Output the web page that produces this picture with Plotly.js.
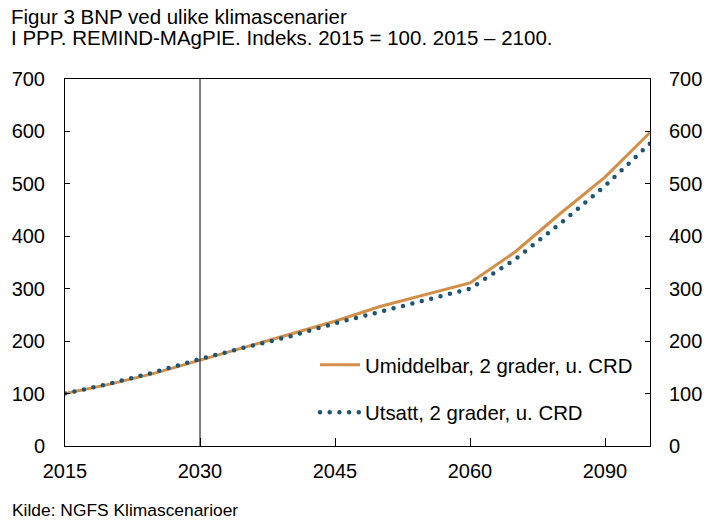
<!DOCTYPE html>
<html>
<head>
<meta charset="utf-8">
<script src="https://cdn.plot.ly/plotly-3.0.1.min.js"></script>
<style>
html, body { margin: 0; padding: 0; background: #fff; }
#chart { width: 714px; height: 528px; }
</style>
</head>
<body>
<div id="chart"></div>
<script>
// Data
const years = ['2015','2020','2025','2030','2035','2040','2045','2050','2055','2060','2070','2080','2090','2100'];
const umiddelbar = [100, 118, 139, 164, 188, 213, 238, 266, 289, 311, 370, 443, 513, 598];
const utsatt     = [100, 119, 141, 166, 188, 209, 234, 257, 278, 300, 356, 424, 496, 577];
const tickYears = ['2015','2030','2045','2060','2090'];
const markerYear = '2030';
const seriesNames = ['Umiddelbar, 2 grader, u. CRD', 'Utsatt, 2 grader, u. CRD'];
const titleLines = ['Figur 3 BNP ved ulike klimascenarier', 'I PPP. REMIND-MAgPIE. Indeks. 2015 = 100. 2015 \u2013 2100.'];
const sourceText = 'Kilde: NGFS Klimascenarioer';

const FONT = 'Liberation Sans, Arial, Helvetica, sans-serif';
const ORANGE = '#D38E48';
const NAVY = '#1E5474';

const traces = [
  {
    x: years, y: umiddelbar, name: seriesNames[0], type: 'scatter', mode: 'lines',
    line: { color: ORANGE, width: 3 }, legendgroup: 'a', hoverinfo: 'skip'
  },
  {
    x: years, y: utsatt, name: seriesNames[1], type: 'scatter', mode: 'lines',
    line: { color: NAVY, width: 4.5, dash: '0px,9.7px' }, legendgroup: 'b', hoverinfo: 'skip'
  },
  {
    x: years, y: umiddelbar, yaxis: 'y2', type: 'scatter', mode: 'lines',
    line: { width: 0 }, showlegend: false, hoverinfo: 'skip', opacity: 0
  }
];

const W = 714, H = 528, ML = 65, MR = 64, MT = 79, MB = 82;
const plotW = W - ML - MR, plotH = H - MT - MB;
const px2x = p => (p - ML) / plotW;
const px2y = p => (H - MB - p) / plotH;

const yAxisCommon = {
  range: [0, 700], dtick: 100, tick0: 0, showgrid: false, zeroline: false,
  showline: true, linecolor: '#000', linewidth: 1,
  ticks: 'inside', ticklen: 5, tickcolor: '#000', tickwidth: 1,
  tickfont: { family: FONT, size: 20, color: '#000' }, fixedrange: true
};

const layout = {
  width: W, height: H,
  margin: { l: ML, r: MR, t: MT, b: MB, pad: 0 },
  paper_bgcolor: '#fff', plot_bgcolor: '#fff',
  font: { family: FONT, color: '#000' },
  showlegend: true,
  xaxis: {
    type: 'category', categoryorder: 'array', categoryarray: years,
    range: [0, years.length - 1],
    tickmode: 'array', tickvals: tickYears, ticktext: tickYears,
    ticks: 'inside', ticklen: 8, tickcolor: '#000', tickwidth: 1,
    showline: true, linecolor: '#000', linewidth: 1, mirror: true,
    showgrid: false, zeroline: false,
    tickfont: { family: FONT, size: 20, color: '#000' },
    ticklabelstandoff: 7, fixedrange: true
  },
  yaxis: Object.assign({}, yAxisCommon, { side: 'left', ticklabelstandoff: 15 }),
  yaxis2: Object.assign({}, yAxisCommon, { side: 'right', overlaying: 'y', ticklabelstandoff: 14 }),
  legend: {
    x: px2x(315), xanchor: 'left', y: px2y(345), yanchor: 'top',
    bgcolor: 'rgba(0,0,0,0)', borderwidth: 0,
    font: { family: FONT, size: 20.4, color: '#000' },
    traceorder: 'grouped', tracegroupgap: 18, itemwidth: 40
  },
  shapes: [{
    type: 'line', xref: 'x', yref: 'paper',
    x0: years.indexOf(markerYear), x1: years.indexOf(markerYear), y0: 0, y1: 1,
    line: { color: '#000', width: 1 }
  }],
  annotations: [
    { text: titleLines[0], xref: 'paper', yref: 'paper', x: px2x(9), xanchor: 'left',
      y: px2y(16.5), yanchor: 'middle', showarrow: false, font: { family: FONT, size: 20.5, color: '#000' } },
    { text: titleLines[1], xref: 'paper', yref: 'paper', x: px2x(9), xanchor: 'left',
      y: px2y(37.5), yanchor: 'middle', showarrow: false, font: { family: FONT, size: 20.5, color: '#000' } },
    { text: sourceText, xref: 'paper', yref: 'paper', x: px2x(10), xanchor: 'left',
      y: px2y(510), yanchor: 'middle', showarrow: false, font: { family: FONT, size: 17.4, color: '#000' } }
  ]
};

Plotly.newPlot('chart', traces, layout, { staticPlot: true, displayModeBar: false }).then(function (gd) {
  gd.querySelectorAll('path').forEach(function (p) {
    const da = p.style.strokeDasharray || '';
    if (/^0(px)?[ ,]/.test(da)) { p.style.strokeLinecap = 'round'; }
  });
});
</script>
</body>
</html>
